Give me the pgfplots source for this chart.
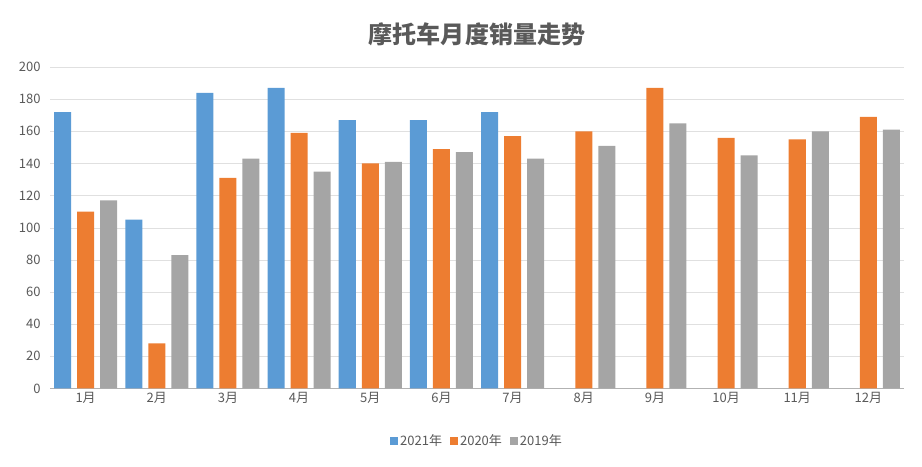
\documentclass[border=0pt]{standalone}
\usepackage{pgfplots}
\pgfplotsset{compat=1.18}
\usepackage{fontspec}
\setmainfont{Noto Sans CJK SC}
\definecolor{cb}{HTML}{5B9BD5}
\definecolor{co}{HTML}{ED7D31}
\definecolor{cg}{HTML}{A5A5A5}
\definecolor{tx}{HTML}{595959}
\begin{document}
\begin{tikzpicture}
\path (-50pt,-78pt) rectangle (871pt,388pt);
\begin{axis}[scale only axis, width=853pt, height=321pt,
  ybar=6pt, bar width=17pt,
  xmin=-0.5, xmax=11.5, ymin=0, ymax=200, ytick={0,20,...,200},
  xtick={0,...,11}, xticklabels={1月,2月,3月,4月,5月,6月,7月,8月,9月,10月,11月,12月},
  axis x line*=bottom, axis y line*=left, y axis line style={draw=none},
  ymajorgrids, grid style={draw=black!12},
  x axis line style={draw=black!30}, major tick length=0pt,
  /pgf/number format/assume math mode=true,
  ticklabel style={text=tx, font=\fontsize{13}{13}\selectfont},
  yticklabel style={xshift=-6pt},
  title={\bfseries 摩托车月度销量走势}, title style={text=tx, font=\fontsize{24}{24}\selectfont, yshift=12pt},
  legend style={at={(0.5,-0.13)}, anchor=north, draw=none, legend columns=3, font=\fontsize{13}{13}\selectfont, text=tx, /tikz/every even column/.append style={column sep=6pt}},
  legend image code/.code={\fill[#1] (0pt,-4pt) rectangle (8pt,4pt);},
  clip=false]
\addplot[fill=cb, draw=none] coordinates {(0,172)(1,105)(2,184)(3,187)(4,167)(5,167)(6,172)};
\addplot[fill=co, draw=none] coordinates {(0,110)(1,28)(2,131)(3,159)(4,140)(5,149)(6,157)(7,160)(8,187)(9,156)(10,155)(11,169)};
\addplot[fill=cg, draw=none] coordinates {(0,117)(1,83)(2,143)(3,135)(4,141)(5,147)(6,143)(7,151)(8,165)(9,145)(10,160)(11,161)};
\legend{2021年,2020年,2019年}
\end{axis}
\end{tikzpicture}
\end{document}
